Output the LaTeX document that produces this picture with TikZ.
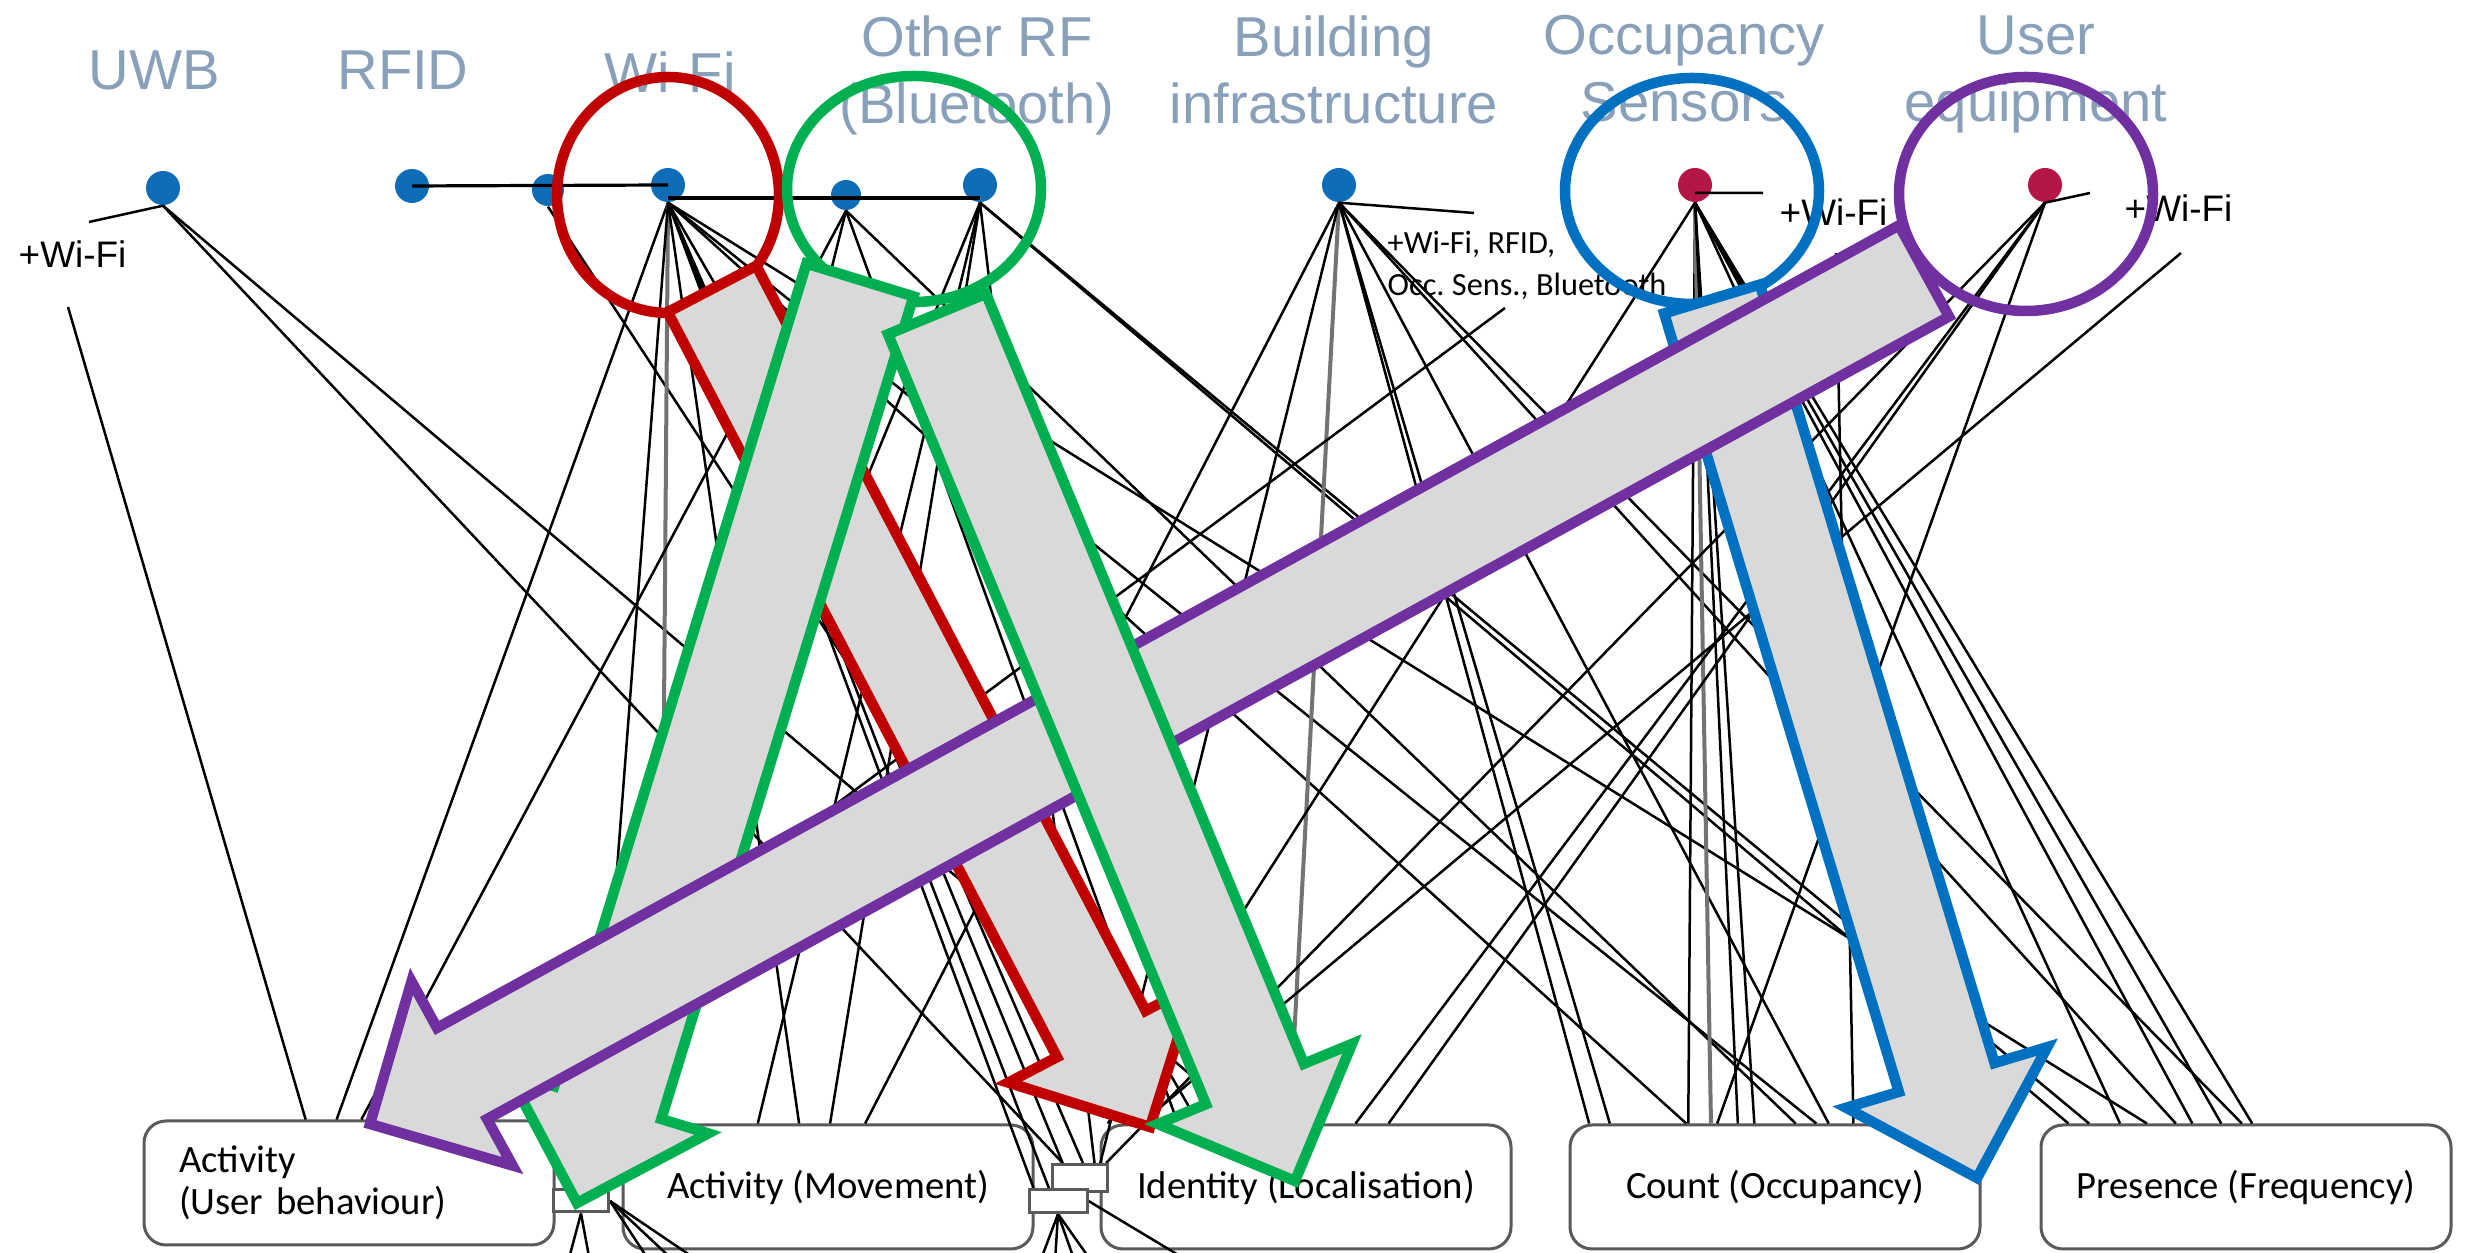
\documentclass[tikz,border=0pt]{standalone}
\usepackage{fontspec}
\usetikzlibrary{calc,shapes.geometric}
\newfontfamily\headfont{Liberation Sans}
\newfontfamily\tagfont{Liberation Sans}
\newfontfamily\boxfont{Carlito}
\frenchspacing

\definecolor{headgray}{RGB}{137,160,186}
\definecolor{dotblue}{RGB}{15,108,182}
\definecolor{dotred}{RGB}{181,22,72}
\definecolor{ringred}{RGB}{192,0,0}
\definecolor{ringgreen}{RGB}{0,176,80}
\definecolor{ringblue}{RGB}{0,112,192}
\definecolor{ringpurple}{RGB}{112,48,160}
\definecolor{arrowfill}{RGB}{217,217,217}
\definecolor{boxedge}{RGB}{90,90,90}

\tikzset{
  head/.style={font=\headfont\fontsize{16pt}{19pt}\selectfont, text=headgray, align=center, inner sep=0pt, anchor=north},
  tech/.style={circle, fill=dotblue, minimum size=3.4mm, inner sep=0pt},
  sensor/.style={circle, fill=dotred, minimum size=3.4mm, inner sep=0pt},
  wire/.style={draw=black, line width=0.25mm},
  greywire/.style={draw=black!55, line width=0.4mm},
  busline/.style={draw=black, line width=0.32mm},
  tag/.style={font=\tagfont\fontsize{10.5pt}{12pt}\selectfont, inner sep=0pt, anchor=west},
  metric/.style={draw=boxedge, line width=0.3mm, rounded corners=2.2mm, fill=white,
    minimum width=41mm, minimum height=12.4mm, inner sep=0pt,
    font=\boxfont\fontsize{11pt}{12pt}\selectfont},
  joint/.style={draw=boxedge, line width=0.3mm, fill=white, inner sep=0pt},
  ring/.style={ellipse, draw, line width=1.05mm, inner sep=0pt},
  flow/.style={fill=arrowfill, line width=1.05mm, line join=miter},
}

% wire from a source to a point on the top edge of a box (fraction along the edge)
\newcommand\wireto[4][wire]{\draw[#1] (#2) -- ($(#3.north west)!#4!(#3.north east)$);}

% broad block arrow: colour, tail, tip, half shaft width
\newcommand\flowarrow[4]{%
  \coordinate (fa-neck) at ($(#3)!10.5mm!(#2)$);
  \filldraw[flow, draw=#1]
    ($(#2)!#4!90:(#3)$) -- ($(fa-neck)!#4!90:(#3)$) -- ($(fa-neck)!10.5mm!90:(#3)$) -- (#3)
    -- ($(fa-neck)!10.5mm!-90:(#3)$) -- ($(fa-neck)!#4!-90:(#3)$) -- ($(#2)!#4!-90:(#3)$) -- cycle;
}

\begin{document}
\begin{tikzpicture}[x=0.1mm, y=-0.1mm]
\fill[white] (0,0) rectangle (2465,1253);
\useasboundingbox (0,0) rectangle (2465,1253);

% technology headings
\node[head] (l-uwb)  at (154,50)  {UWB};
\node[head] (l-rfid) at (403,50)  {RFID};
\node[head] (l-wifi) at (670,51)  {Wi-Fi};
\node[head] (l-orf)  at (977,15)  {Other RF\\(Bluetooth)};
\node[head] (l-bld)  at (1334,15) {Building\\infrastructure};
\node[head] (l-occ)  at (1684,15) {Occupancy\\Sensors};
\node[head] (l-usr)  at (2036,15) {User\\equipment};

% source dots
\node[tech] (uwb)   at (163,188) {};
\node[tech] (rfid)  at (412,186) {};
\node[tech, minimum size=3.2mm] (rfid2) at (548,190) {};
\node[tech] (wifi)  at (668,185) {};
\node[tech, minimum size=3.0mm] (orf1) at (846,195) {};
\node[tech] (orf2)  at (980,185) {};
\node[tech] (bld)   at (1339,185) {};
\node[sensor] (occ) at (1695,185) {};
\node[sensor] (usr) at (2045,185) {};

% metric boxes
\node[metric, align=left, text width=34mm] (act1) at (349,1183) {Activity\\(User behaviour)};
\node[metric] (mov) at (828,1187)  {Activity (Movement)};
\node[metric] (idn) at (1306,1187) {Identity (Localisation)};
\node[metric] (cnt) at (1775,1187) {Count (Occupancy)};
\node[metric] (prs) at (2246,1187) {Presence (Frequency)};

% side notes
\node[tag] (uwb-tag) at (18,254)   {+Wi-Fi};
\node[tag] (occ-tag) at (1779,212) {+Wi-Fi};
\node[tag] (usr-tag) at (2124,208) {+Wi-Fi};
\node[font=\boxfont\fontsize{9.2pt}{11.7pt}\selectfont, align=left, anchor=north west, inner sep=0pt]
  (bld-tag) at (1387,231) {+Wi-Fi, RFID,\\Occ. Sens., Bluetooth};

\coordinate (uwb-tagend) at (89,222);
\coordinate (bld-tagend) at (1474,213);
\coordinate (occ-tagend) at (1763,193);
\coordinate (usr-tagend) at (2090,193);
\coordinate (uwb-foot) at (68,307);
\coordinate (bld-foot) at (1505,308);
\coordinate (occ-foot) at (1836,253);
\coordinate (usr-foot) at (2181,253);

% buses between dots
\draw[busline] (rfid.center) -- (wifi.center);
\draw[busline] ([yshift=-1.3mm]wifi.center) -- ([yshift=-1.3mm]orf2.center);

% note pointers
\draw[wire] (uwb.south) -- (uwb-tagend);
\draw[wire] (bld.south) -- (bld-tagend);
\draw[wire] ([yshift=-0.8mm]occ.center) -- (occ-tagend);
\draw[wire] (usr.south) -- (usr-tagend);

% joints between boxes
\node[joint, minimum width=5.5mm, minimum height=2.2mm] (r1) at (581,1201) {};
\node[joint, minimum width=5.5mm, minimum height=2.7mm] (r2) at (1080,1178) {};
\node[joint, minimum width=5.8mm, minimum height=2.3mm] (r3) at (1058,1201) {};

% UWB
\wireto{uwb.south}{r2}{0.2}
\wireto{uwb.south}{idn}{0.36}
\wireto{uwb-foot}{act1}{0.395}
% RFID
\wireto{rfid2.south}{idn}{0.12}
% Wi-Fi
\wireto{wifi.south}{act1}{0.47}
\wireto[greywire]{wifi.south}{mov}{0.095}
\wireto{wifi.south}{mov}{0.43}
\wireto{wifi.south}{r1}{0.7}
\wireto{wifi.south}{r3}{0.1}
\wireto{wifi.south}{r3}{0.35}
\wireto{wifi.south}{r2}{0.2}
\wireto{wifi.south}{r2}{0.55}
\wireto{wifi.south}{idn}{0.24}
\wireto{wifi.south}{cnt}{0.285}
\wireto{wifi.south}{cnt}{0.6}
\wireto{wifi.south}{prs}{0.26}
% Other RF
\wireto{orf1.south}{act1}{0.53}
\wireto{orf1.south}{cnt}{0.55}
\wireto{orf1.south}{r1}{0.85}
\wireto{orf1.south}{idn}{0.19}
\wireto{orf2.south}{mov}{0.505}
\wireto{orf2.south}{mov}{0.33}
\wireto{orf2.south}{prs}{0.07}
\wireto{orf2.south}{prs}{0.12}
\wireto{orf2.south}{r1}{0.4}
\wireto{orf2.south}{r2}{0.75}
% Building infrastructure
\wireto{bld.south}{mov}{0.59}
\wireto[greywire]{bld.south}{idn}{0.46}
\wireto{bld.south}{cnt}{0.05}
\wireto{bld.south}{cnt}{0.1}
\wireto{bld.south}{cnt}{0.63}
\wireto{bld.south}{prs}{0.33}
\wireto{bld.south}{prs}{0.49}
\wireto{bld.south}{r2}{0.85}
\wireto{bld-foot}{act1}{0.65}
% Occupancy sensors
\wireto{occ.south}{cnt}{0.29}
\wireto[greywire]{occ.south}{cnt}{0.345}
\wireto{occ.south}{cnt}{0.41}
\wireto{occ.south}{cnt}{0.45}
\wireto{occ.south}{prs}{0.195}
\wireto{occ.south}{prs}{0.37}
\wireto{occ.south}{prs}{0.44}
\wireto{occ.south}{prs}{0.515}
\wireto{occ.south}{idn}{0.02}
\wireto{occ-foot}{cnt}{0.69}
% User equipment
\wireto{usr.south}{idn}{0.7}
\wireto{usr.south}{idn}{0.62}
\wireto{usr.south}{r2}{0.95}
\wireto{usr.south}{cnt}{0.36}
\wireto{usr-foot}{idn}{0.1}

% wires leaving the joints downwards
\coordinate (r1-o1) at (568,1262);
\coordinate (r1-o2) at (590,1262);
\coordinate (r1-o3) at (650,1262);
\coordinate (r1-o4) at (675,1262);
\coordinate (r1-o5) at (700,1262);
\coordinate (r3-o1) at (1040,1262);
\coordinate (r3-o2) at (1055,1262);
\coordinate (r3-o3) at (1075,1262);
\coordinate (r3-o4) at (1092,1262);
\coordinate (r3-o5) at (1190,1262);
\foreach \k in {1,2} \draw[wire] (r1.south) -- (r1-o\k);
\foreach \k in {3,4,5} \draw[wire] (r1.east) -- (r1-o\k);
\foreach \k in {1,2,3,4} \draw[wire] (r3.south) -- (r3-o\k);
\draw[wire] (r3.east) -- (r3-o5);
\node[joint, minimum width=5.5mm, minimum height=2.2mm] at (r1) {};
\node[joint, minimum width=5.5mm, minimum height=2.7mm] at (r2) {};
\node[joint, minimum width=5.8mm, minimum height=2.3mm] at (r3) {};

% highlight rings
\node[ring, draw=ringred,    minimum width=22.2mm, minimum height=23.6mm] (wifiring) at (668,195) {};
\node[ring, draw=ringgreen,  minimum width=25.4mm, minimum height=22.6mm] (orfring)  at (914,189) {};
\node[ring, draw=ringblue,   minimum width=25.4mm, minimum height=22.6mm] (occring)  at (1692,191) {};
\node[ring, draw=ringpurple, minimum width=25.4mm, minimum height=23.4mm] (usrring)  at (2026,194) {};

% block arrows from the rings to the metrics
\coordinate (red-tail) at (712,289);  \coordinate (red-tip) at (1150,1127);
\coordinate (g1-tail)  at (860,280);  \coordinate (g1-tip)  at (577,1203);
\coordinate (g2-tail)  at (937,314);  \coordinate (g2-tip)  at (1295,1181);
\coordinate (bl-tail)  at (1712,299); \coordinate (bl-tip)  at (1977,1178);
\coordinate (pu-tail)  at (1924,271); \coordinate (pu-tip)  at (370,1124);

\flowarrow{ringred}{red-tail}{red-tip}{5mm}
\flowarrow{ringgreen}{g1-tail}{g1-tip}{5.6mm}
\flowarrow{ringblue}{bl-tail}{bl-tip}{5mm}
\flowarrow{ringpurple}{pu-tail}{pu-tip}{5.2mm}
\flowarrow{ringgreen}{g2-tail}{g2-tip}{5.3mm}
\end{tikzpicture}
\end{document}
